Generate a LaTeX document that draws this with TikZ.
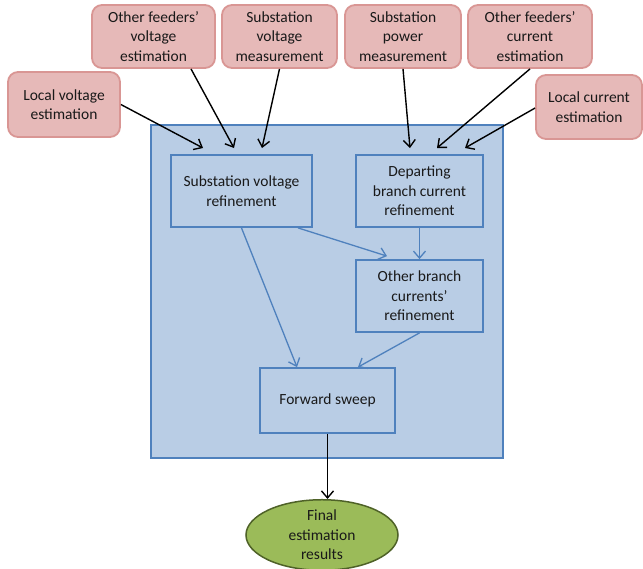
\documentclass[tikz,border=0pt]{standalone}
\usepackage{fontspec}
\setmainfont{Carlito}
\usetikzlibrary{arrows.meta,shapes.geometric,calc}
\definecolor{pinkfill}{HTML}{E6B9B8}
\definecolor{pinkline}{HTML}{D99694}
\definecolor{bluefill}{HTML}{B9CDE5}
\definecolor{blueline}{HTML}{4F81BD}
\definecolor{greenfill}{HTML}{9BBB59}
\definecolor{greenline}{HTML}{4F6228}
\tikzset{
  txt/.style={font=\fontsize{15.5}{19.5}\selectfont, align=center, text=black!90, inner sep=0pt},
  source/.style={txt, draw=pinkline, fill=pinkfill, line width=1.8pt, rounded corners=10pt},
  stage/.style={txt, draw=blueline, fill=bluefill, line width=1.8pt},
  result/.style={txt, ellipse, draw=greenline, fill=greenfill, line width=1.5pt},
  inarrow/.style={draw=black, line width=1.4pt, -{Straight Barb[length=7pt,width=12pt]}},
  flow/.style={draw=blueline, line width=1.3pt, -{Straight Barb[length=7pt,width=12pt]}},
}
\begin{document}
\begin{tikzpicture}[x=1pt,y=-1pt]
\useasboundingbox (0,0) rectangle (643,568);

% outer processing block
\node[stage, minimum width=352, minimum height=333] (block) at (327,291.5) {};

% inputs
\node[source, minimum width=112, minimum height=65] (lve) at (64,104.5) {Local voltage\\estimation};
\node[source, minimum width=123, minimum height=63] (ofv) at (153.5,36.5) {Other feeders’\\voltage\\estimation};
\node[source, minimum width=115, minimum height=63] (svm) at (279.5,36.5) {Substation\\voltage\\measurement};
\node[source, minimum width=116, minimum height=63] (spm) at (403,36.5) {Substation\\power\\measurement};
\node[source, minimum width=124, minimum height=63] (ofc) at (530,36.5) {Other feeders’\\current\\estimation};
\node[source, minimum width=106, minimum height=64] (lce) at (589,107) {Local current\\estimation};

% refinement steps
\node[stage, minimum width=141, minimum height=72] (svr) at (241.5,191) {Substation voltage\\refinement};
\node[stage, minimum width=127, minimum height=72] (dbr) at (419.5,191) {Departing\\branch current\\refinement};
\node[stage, minimum width=127, minimum height=72] (obr) at (419.5,296) {Other branch\\currents’\\refinement};
\node[stage, minimum width=135, minimum height=65] (fs) at (327.5,400.5) {Forward sweep};
\node[result, minimum width=152, minimum height=66] (fin) at (322,535) {Final\\estimation\\results};

% arrow targets inside the block
\coordinate (t1) at (203,148);
\coordinate (t2) at (234,148);
\coordinate (t3) at (262,148);
\coordinate (t4) at (410,148);
\coordinate (t5) at (437,148);
\coordinate (t6) at (465,148);

\draw[inarrow] (lve.east) -- (t1);
\draw[inarrow] ([xshift=37.5pt]ofv.south) -- (t2);
\draw[inarrow] (svm.south) -- (t3);
\draw[inarrow] (spm.south) -- (t4);
\draw[inarrow] (ofc.south) -- (t5);
\draw[inarrow] ([yshift=-1pt]lce.west) -- (t6);

\draw[flow] (svr.south) -- ([xshift=-30.5pt]fs.north);
\draw[flow] ([xshift=56.5pt]svr.south) -- ([xshift=-32.5pt,yshift=3pt]obr.north);
\draw[flow] (dbr.south) -- (obr.north);
\draw[flow] (obr.south) -- ([xshift=30.5pt]fs.north);
\draw[inarrow] (fs.south) -- (fs.south |- fin.north);
\end{tikzpicture}
\end{document}
